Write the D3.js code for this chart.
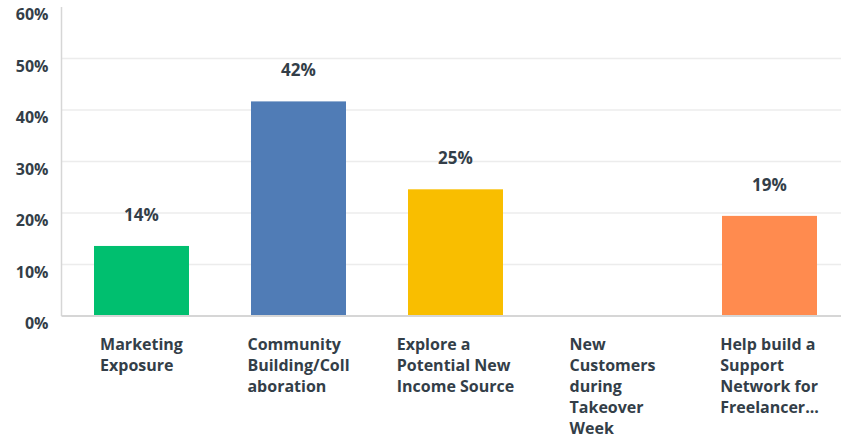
<!DOCTYPE html>
<html>
<head>
<meta charset="utf-8">
<script src="https://cdn.jsdelivr.net/npm/d3@7/dist/d3.min.js"></script>
<style>
  html, body { margin: 0; padding: 0; background: #fff; }
  svg { display: block; }
  text { font-family: "Open Sans", "Lato", sans-serif; fill: #333e48; }
</style>
</head>
<body>
<svg id="chart" width="841" height="439"></svg>
<script>
// Answer choices (wrapped lines as displayed under each bar)
const categories = [
  "Marketing Exposure",
  "Community Building/Collaboration",
  "Explore a Potential New Income Source",
  "New Customers during Takeover Week",
  "Help build a Support Network for Freelancer..."
];
const categoryLines = [
  ["Marketing", "Exposure"],
  ["Community", "Building/Coll", "aboration"],
  ["Explore a", "Potential New", "Income Source"],
  ["New", "Customers", "during", "Takeover", "Week"],
  ["Help build a", "Support", "Network for", "Freelancer..."]
];
// Share of responses, percent
const values = [13.6, 41.67, 24.6, 0, 19.44];
const colors = ["#00bf6f", "#507cb6", "#f9be00", "#6bc8cd", "#ff8b4f"];
const yTicks = [0, 10, 20, 30, 40, 50, 60];

const svg = d3.select("#chart");
const W = 841, H = 439;

const y = d3.scaleLinear().domain([0, 60]).range([316, 7]);
const x = d3.scaleBand()
  .domain(categories)
  .range([63, 848])
  .paddingInner(0.395)
  .paddingOuter(0.1975);

const plotLeft = 61.5;

// Horizontal gridlines
svg.append("g")
  .selectAll("line")
  .data(yTicks.filter(t => t > 0 && t < 60))
  .join("line")
  .attr("x1", plotLeft)
  .attr("x2", W)
  .attr("y1", d => y(d))
  .attr("y2", d => y(d))
  .attr("stroke", "#ececec")
  .attr("stroke-width", 1.5);

// Y axis labels
const yAxis = d3.axisLeft(y).tickValues(yTicks).tickFormat(d => d + "%").tickSize(0).tickPadding(12);
const gy = svg.append("g").attr("transform", `translate(${plotLeft},0)`).call(yAxis);
gy.select(".domain").remove();
gy.selectAll("text")
  .attr("dy", "1.05em")
  .style("font-size", "16px")
  .style("font-weight", "700")
  .style("fill", "#333e48")
  .attr("x", -13)
  .attr("y", -4);

// Bars
svg.append("g")
  .selectAll("rect")
  .data(values)
  .join("rect")
  .attr("x", (d, i) => x(categories[i]))
  .attr("width", x.bandwidth())
  .attr("y", d => y(d))
  .attr("height", d => y(0) - y(d))
  .attr("fill", (d, i) => colors[i]);

// Value labels above non-empty bars
svg.append("g")
  .selectAll("text")
  .data(values.map((v, i) => ({ v, i })).filter(d => d.v > 0))
  .join("text")
  .attr("x", d => x(categories[d.i]) + x.bandwidth() / 2)
  .attr("y", d => y(d.v) - 25)
  .attr("text-anchor", "middle")
  .style("font-size", "17px")
  .style("font-weight", "700")
  .text(d => d3.format(".0f")(d.v) + "%");

// Axis lines
svg.append("line")
  .attr("x1", plotLeft).attr("x2", plotLeft)
  .attr("y1", y(60)).attr("y2", y(0))
  .attr("stroke", "#d6d6d6").attr("stroke-width", 1.5);
svg.append("line")
  .attr("x1", plotLeft).attr("x2", W)
  .attr("y1", y(0)).attr("y2", y(0))
  .attr("stroke", "#d6d6d6").attr("stroke-width", 2);

// Category labels: left-aligned block centred under each bar
const labelG = svg.append("g");
categories.forEach((c, i) => {
  const t = labelG.append("text")
    .style("font-size", "16px")
    .style("font-weight", "700");
  categoryLines[i].forEach((line, k) => {
    t.append("tspan").attr("y", 350 + k * 21).text(line);
  });
  const widths = t.selectAll("tspan").nodes().map(n => n.getComputedTextLength());
  const w = d3.max(widths);
  const cx = x(c) + x.bandwidth() / 2;
  t.selectAll("tspan").attr("x", cx - w / 2);
});
</script>
</body>
</html>
